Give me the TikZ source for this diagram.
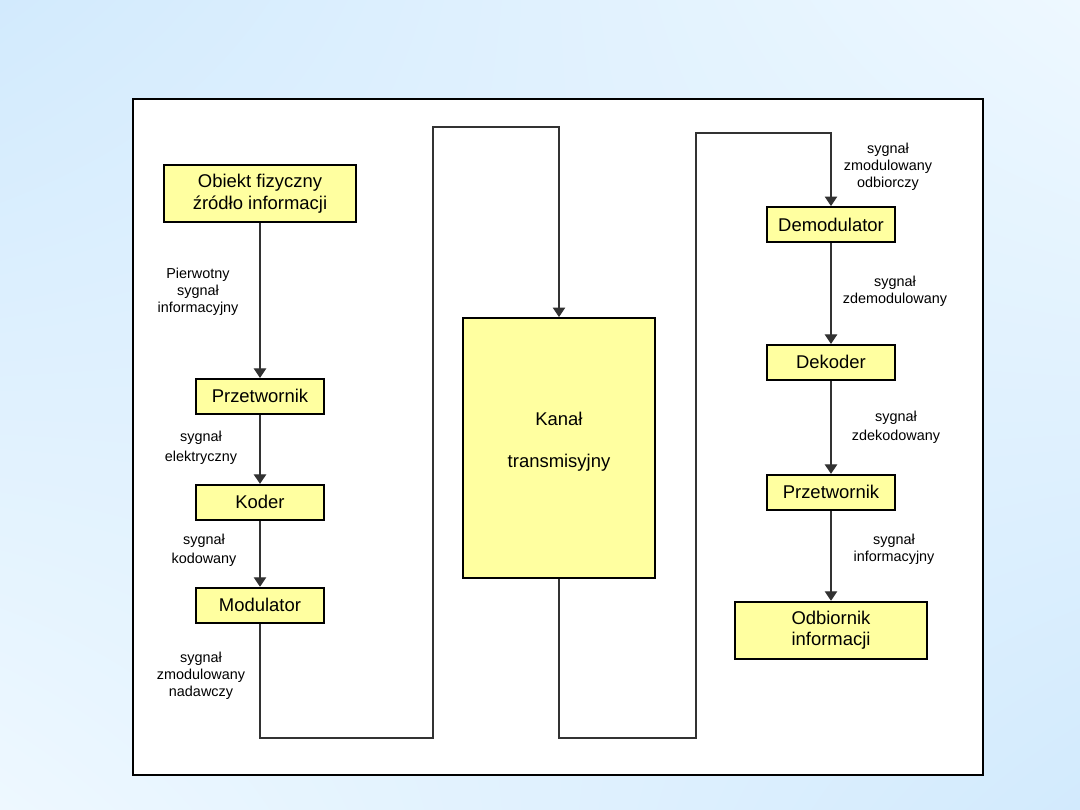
\documentclass[tikz,border=0pt]{standalone}
\usepackage{fontspec}
\setmainfont{Liberation Sans}
\usetikzlibrary{shapes,shadings,arrows.meta,positioning}
\definecolor{boxyellow}{RGB}{255,255,160}
\definecolor{bgblue}{RGB}{210,234,253}
\definecolor{bglight}{RGB}{238,248,255}
\definecolor{linegray}{RGB}{50,50,50}

\begin{document}
\begin{tikzpicture}[x=0.02cm, y=-0.02cm,
  small/.style={rectangle,draw=black,fill=boxyellow,line width=1.1pt,minimum width=2.56cm,minimum height=0.7cm,inner sep=0pt,font=\fontsize{10.5}{12.5}\selectfont},
  big/.style={small,minimum width=3.84cm,minimum height=1.14cm,align=center},
  signal/.style={align=center,font=\fontsize{8.2}{9.6}\selectfont,inner sep=0pt},
  line/.style={draw=linegray,line width=0.6pt,-{Triangle[length=0.19cm,width=0.25cm]}},
  wire/.style={draw=linegray,line width=0.6pt}]

  \useasboundingbox (0,0) rectangle (1080,810);
  \shade[upper left=bgblue,upper right=bglight,lower left=bglight,lower right=bgblue] (0,0) rectangle (1080,810);
  \draw[black,line width=0.7pt,fill=white] (133,99) rectangle (983,775);

  % nadajnik
  \node[big] (obiekt) at (260,193.5) {Obiekt fizyczny\\źródło informacji};
  \node[small,below=3.1cm of obiekt] (przetwL) {Przetwornik};
  \node[small,below=1.38cm of przetwL] (koder) {Koder};
  \node[small,below=1.32cm of koder] (modulator) {Modulator};

  % kanal
  \node[big,minimum height=5.2cm] (kanal) at (559,448) {Kanał\\[11pt]transmisyjny\\[-7pt]\strut};

  % odbiornik
  \node[small] (demod) at (831,224.5) {Demodulator};
  \node[small,below=2.02cm of demod] (dekoder) {Dekoder};
  \node[small,below=1.86cm of dekoder] (przetwR) {Przetwornik};
  \node[big,below=1.8cm of przetwR] (odbiornik) {Odbiornik\\informacji};

  \coordinate (dolL) at (433,738);
  \coordinate (goraL) at (433,127);
  \coordinate (dolP) at (696,738);
  \coordinate (goraP) at (696,133);

  \draw[line] (obiekt) -- (przetwL);
  \draw[line] (przetwL) -- (koder);
  \draw[line] (koder) -- (modulator);
  \draw[line] (modulator.south) |- (dolL) -- (goraL) -| (kanal.north);
  \draw[line] (kanal.south) |- (dolP) -- (goraP) -| (demod.north);
  \draw[line] (demod) -- (dekoder);
  \draw[line] (dekoder) -- (przetwR);
  \draw[line] (przetwR) -- (odbiornik);

  % opisy sygnalow
  \node[signal] (lblPierwotny) at (198,292) {Pierwotny\\sygnał\\informacyjny};
  \node[signal] (lblElektr) at (201,448) {sygnał\\[2pt]elektryczny};
  \node[signal] (lblKod) at (204,550) {sygnał\\[1pt]kodowany};
  \node[signal] (lblNadaw) at (201,676) {sygnał\\zmodulowany\\nadawczy};
  \node[signal] (lblOdbior) at (888,167) {sygnał\\zmodulowany\\odbiorczy};
  \node[signal] (lblDemod) at (895,291) {sygnał\\zdemodulowany};
  \node[signal] (lblDekod) at (896,427) {sygnał\\[1pt]zdekodowany};
  \node[signal] (lblInfo) at (894,549) {sygnał\\informacyjny};
\end{tikzpicture}
\end{document}
